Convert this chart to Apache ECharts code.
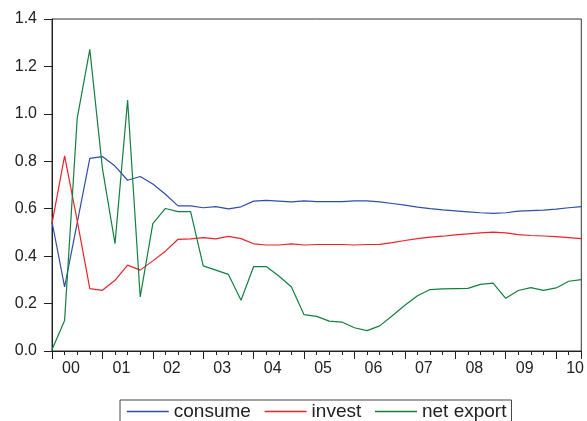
<!DOCTYPE html>
<html>
<head>
<meta charset="utf-8">
<script src="https://cdn.jsdelivr.net/npm/echarts@6/dist/echarts.min.js"></script>
<style>
html,body{margin:0;padding:0;background:#fff;}
#chart{width:587px;height:421px;}
</style>
</head>
<body>
<div id="chart"></div>
<script>
const quarters = [
  '2000Q1','2000Q2','2000Q3','2000Q4','2001Q1','2001Q2','2001Q3','2001Q4',
  '2002Q1','2002Q2','2002Q3','2002Q4','2003Q1','2003Q2','2003Q3','2003Q4',
  '2004Q1','2004Q2','2004Q3','2004Q4','2005Q1','2005Q2','2005Q3','2005Q4',
  '2006Q1','2006Q2','2006Q3','2006Q4','2007Q1','2007Q2','2007Q3','2007Q4',
  '2008Q1','2008Q2','2008Q3','2008Q4','2009Q1','2009Q2','2009Q3','2009Q4',
  '2010Q1','2010Q2','2010Q3'
];
const yearLabels = ['00','01','02','03','04','05','06','07','08','09','10'];
const yTicks = [0.0, 0.2, 0.4, 0.6, 0.8, 1.0, 1.2, 1.4];

const consume = [
  0.545, 0.270, 0.540, 0.812, 0.820, 0.780, 0.720, 0.736, 0.704, 0.661, 0.612,
  0.612, 0.604, 0.609, 0.599, 0.608, 0.632, 0.635, 0.632, 0.629, 0.633,
  0.630, 0.630, 0.630, 0.633, 0.633, 0.629, 0.622, 0.615, 0.607, 0.600,
  0.595, 0.591, 0.587, 0.583, 0.580, 0.583, 0.590, 0.592, 0.594, 0.598, 0.604, 0.609
];
const invest = [
  0.537, 0.823, 0.550, 0.263, 0.256, 0.298, 0.362, 0.341, 0.380, 0.421, 0.471,
  0.473, 0.478, 0.473, 0.483, 0.474, 0.452, 0.447, 0.447, 0.452, 0.447,
  0.449, 0.449, 0.449, 0.447, 0.449, 0.450, 0.457, 0.466, 0.474, 0.480,
  0.484, 0.490, 0.494, 0.498, 0.501, 0.498, 0.491, 0.487, 0.485, 0.482, 0.478, 0.474
];
const netExport = [
  0.005, 0.129, 0.981, 1.272, 0.770, 0.453, 1.058, 0.228, 0.537, 0.601, 0.588,
  0.588, 0.359, 0.341, 0.323, 0.214, 0.356, 0.356, 0.316, 0.270, 0.153,
  0.146, 0.126, 0.122, 0.098, 0.086, 0.106, 0.149, 0.193, 0.233, 0.259,
  0.262, 0.263, 0.264, 0.281, 0.286, 0.222, 0.255, 0.267, 0.256, 0.266, 0.294, 0.301
];

const seriesNames = ['consume', 'invest', 'net export'];
const seriesColors = ['#2f4fa6', '#ee2228', '#13803e'];
const seriesValues = [consume, invest, netExport];

const chart = echarts.init(document.getElementById('chart'), null, {renderer: 'canvas'});
const lastIdx = quarters.length - 1;
const labelFont = 'Liberation Sans, Arial, sans-serif';

chart.setOption({
  animation: false,
  backgroundColor: '#fff',
  color: seriesColors,
  grid: {
    left: 52, right: 2, top: 19, bottom: 70,
    show: true, borderColor: '#333', borderWidth: 1, backgroundColor: 'transparent'
  },
  legend: {
    left: 120, top: 400,
    padding: [2, 5, 4, 6],
    itemGap: 13,
    itemWidth: 42, itemHeight: 12,
    itemStyle: {opacity: 0},
    lineStyle: {width: 1.5},
    borderColor: '#444', borderWidth: 1,
    data: seriesNames,
    textStyle: {fontFamily: labelFont, fontSize: 19, color: '#222'}
  },
  xAxis: {
    type: 'value', min: 0, max: lastIdx, interval: 4,
    position: 'bottom',
    axisLine: {show: true, lineStyle: {color: '#222', width: 1}},
    axisTick: {show: true, inside: false, length: 8, lineStyle: {color: '#222'}},
    minorTick: {show: true, splitNumber: 4, length: 4, lineStyle: {color: '#222'}},
    splitLine: {show: false},
    axisLabel: {
      show: true, margin: 10, showMaxLabel: true,
      padding: [0, 0, 0, 38],
      fontFamily: labelFont, fontSize: 16, color: '#222',
      formatter: function (v) {
        const k = Math.round(v);
        if (Math.abs(v - k) > 1e-6 || k % 4 !== 0) return '';
        return yearLabels[k / 4] || '';
      }
    }
  },
  yAxis: {
    type: 'value', min: yTicks[0], max: yTicks[yTicks.length - 1], interval: 0.2,
    axisLine: {show: true, lineStyle: {color: '#222', width: 1}},
    axisTick: {show: true, inside: false, length: 8, lineStyle: {color: '#222'}},
    splitLine: {show: false},
    axisLabel: {
      margin: 15, fontFamily: labelFont, fontSize: 16, color: '#222',
      formatter: function (v) { return v.toFixed(1); }
    }
  },
  series: seriesNames.map(function (name, s) {
    return {
      name: name,
      type: 'line',
      symbol: 'none',
      smooth: false,
      itemStyle: {color: seriesColors[s]},
      lineStyle: {color: seriesColors[s], width: 1.2},
      data: seriesValues[s].map(function (v, i) { return [i, v]; })
    };
  })
});
</script>
</body>
</html>
